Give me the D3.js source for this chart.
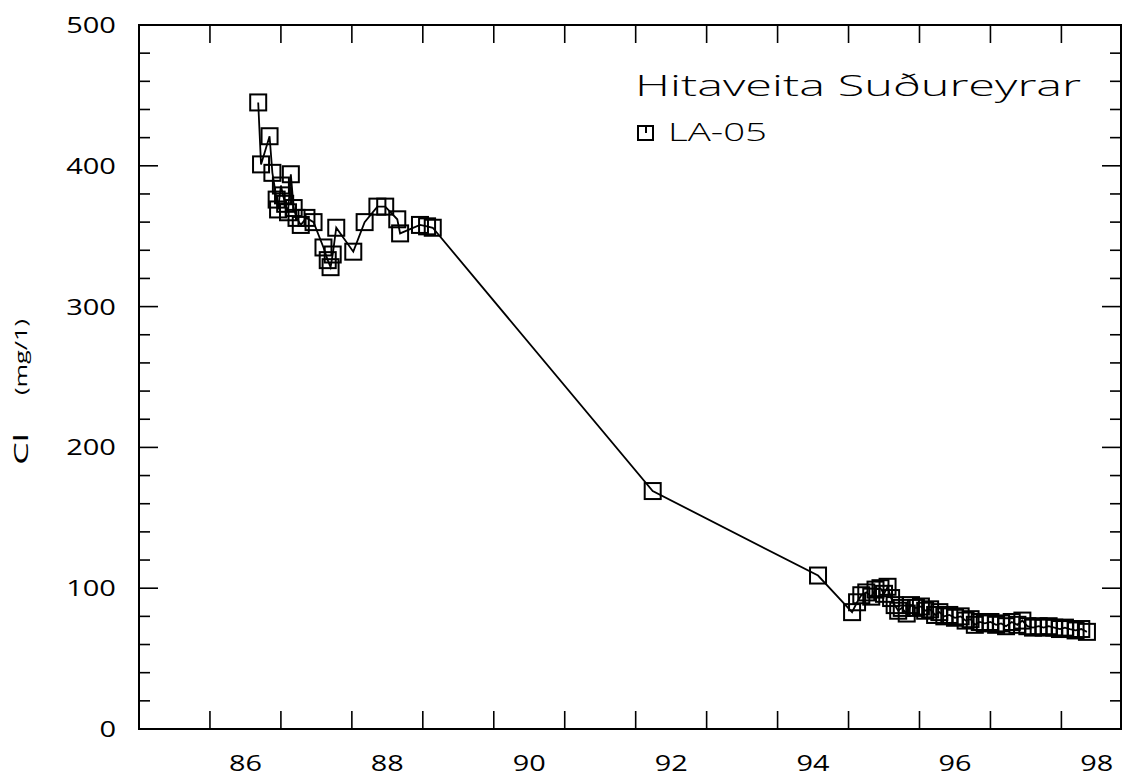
<!DOCTYPE html>
<html>
<head>
<meta charset="utf-8">
<script src="https://cdn.jsdelivr.net/npm/d3@7"></script>
<style>
  body { margin: 0; background: #fff; }
  text { font-family: 'Open Sans', 'DejaVu Sans', sans-serif; font-weight: 400; fill: #000; }
  .light { font-weight: 300; }
</style>
</head>
<body>
<div id="chart"></div>
<script>
// decimal year (19xx) and chloride (mg/l) for well LA-05
var years = [86.68, 86.72, 86.84, 86.88, 86.94, 86.96, 87.00, 87.03, 87.06, 87.10, 87.14, 87.18, 87.22, 87.28, 87.36, 87.46,
    87.60, 87.66, 87.70, 87.73, 87.78, 88.02, 88.18, 88.36, 88.47, 88.64, 88.68, 88.96, 89.06, 89.14,
    92.24, 94.57, 95.05, 95.12, 95.18, 95.25, 95.32, 95.38, 95.45, 95.50, 95.55, 95.60, 95.65, 95.70, 95.75,
    95.82, 95.88, 95.95, 96.02, 96.08, 96.15, 96.22, 96.28, 96.35, 96.42, 96.50, 96.58, 96.65, 96.72, 96.78,
    96.85, 96.92, 97.00, 97.08, 97.15, 97.22, 97.30, 97.38, 97.45, 97.52, 97.60, 97.68, 97.75, 97.82, 97.90,
    97.98, 98.05, 98.12, 98.20, 98.28, 98.36];
var cl = [445, 401, 421, 395, 376, 369, 386, 379, 373, 367, 394, 370, 363, 358, 363, 360,
    342, 333, 328, 337, 356, 339, 360, 371, 371, 362, 352, 358, 357, 356,
    169, 109, 83, 90, 95, 97, 94, 99, 100, 96, 101, 93, 88, 84, 86,
    82, 88, 86, 87, 84, 85, 81, 83, 80, 81, 79, 80, 77, 78, 74,
    76, 75, 76, 74, 75, 73, 76, 74, 77, 73, 72, 73, 72, 73, 72,
    71, 72, 71, 70, 71, 69];

var yearTicks = [86, 87, 88, 89, 90, 91, 92, 93, 94, 95, 96, 97, 98];
var yearLabels = ['86', '88', '90', '92', '94', '96', '98'];
var clTicks = [0, 100, 200, 300, 400, 500];

var data = years.map(function(d, i) { return { t: d, v: cl[i] }; });

var width = 1131, height = 780;
var margin = { top: 25, right: 10, bottom: 51, left: 139 };
var x0 = margin.left, x1 = width - margin.right, y0 = height - margin.bottom, y1 = margin.top;

var svg = d3.select('#chart')
    .append('svg')
    .attr('width', width)
    .attr('height', height);

var x = d3.scaleLinear().domain([85, 98.84]).range([x0, x1]);
var y = d3.scaleLinear().domain([0, 500]).range([y0, y1]);

// frame
svg.append('rect')
    .attr('x', x0).attr('y', y1)
    .attr('width', x1 - x0).attr('height', y0 - y1)
    .attr('fill', 'none').attr('stroke', '#000').attr('stroke-width', 2);

// ticks pointing inward
var minor = d3.range(20, 500, 20);
var ticks = svg.append('g').attr('stroke', '#000').attr('stroke-width', 1.6);
minor.forEach(function(v) {
    var len = v % 100 === 0 ? 19 : 11;
    ticks.append('line').attr('x1', x0).attr('x2', x0 + len).attr('y1', y(v)).attr('y2', y(v));
    ticks.append('line').attr('x1', x1).attr('x2', x1 - len).attr('y1', y(v)).attr('y2', y(v));
});
yearTicks.forEach(function(t) {
    ticks.append('line').attr('x1', x(t)).attr('x2', x(t)).attr('y1', y0).attr('y2', y0 - 18);
    ticks.append('line').attr('x1', x(t)).attr('x2', x(t)).attr('y1', y1).attr('y2', y1 + 18);
});

// tick labels
svg.selectAll('.ylab')
    .data(clTicks)
    .enter()
    .append('text')
    .attr('class', 'ylab')
    .attr('x', 116)
    .attr('y', function(d) { return y(d) + 8; })
    .attr('text-anchor', 'end')
    .attr('font-size', 21)
    .attr('textLength', function(d) { return String(d).length * 16.6; })
    .attr('lengthAdjust', 'spacingAndGlyphs')
    .text(function(d) { return d; });

svg.selectAll('.xlab')
    .data(yearLabels)
    .enter()
    .append('text')
    .attr('class', 'xlab')
    .attr('x', function(d) { return x(+d + 0.5); })
    .attr('y', 771)
    .attr('text-anchor', 'middle')
    .attr('font-size', 22)
    .attr('textLength', 33)
    .attr('lengthAdjust', 'spacingAndGlyphs')
    .text(function(d) { return d; });

// y axis title
svg.append('text')
    .attr('transform', 'translate(28,449) rotate(-90)')
    .attr('text-anchor', 'middle')
    .attr('font-size', 20)
    .attr('textLength', 32)
    .attr('lengthAdjust', 'spacingAndGlyphs')
    .text('Cl');
svg.append('text')
    .attr('transform', 'translate(27,357) rotate(-90)')
    .attr('text-anchor', 'middle')
    .attr('font-size', 16)
    .attr('textLength', 76)
    .attr('lengthAdjust', 'spacingAndGlyphs')
    .text('(mg/1)');

// data line and markers
var line = d3.line()
    .x(function(d) { return x(d.t); })
    .y(function(d) { return y(d.v); });

svg.append('path')
    .datum(data)
    .attr('d', line)
    .attr('fill', 'none')
    .attr('stroke', '#000')
    .attr('stroke-width', 1.8);

var sq = 16;
svg.selectAll('.pt')
    .data(data)
    .enter()
    .append('rect')
    .attr('class', 'pt')
    .attr('x', function(d) { return x(d.t) - sq / 2; })
    .attr('y', function(d) { return y(d.v) - sq / 2; })
    .attr('width', sq)
    .attr('height', sq)
    .attr('fill', 'none')
    .attr('stroke', '#000')
    .attr('stroke-width', 2);

// title and legend
svg.append('text')
    .attr('class', 'light')
    .attr('x', 635)
    .attr('y', 96)
    .attr('font-size', 30)
    .attr('textLength', 446)
    .attr('lengthAdjust', 'spacingAndGlyphs')
    .text('Hitaveita Suðureyrar');

var lg = svg.append('g').attr('transform', 'translate(646,133)');
lg.append('rect')
    .attr('x', -8).attr('y', -7).attr('width', 15).attr('height', 14)
    .attr('fill', 'none').attr('stroke', '#000').attr('stroke-width', 2);
lg.append('line')
    .attr('x1', 0).attr('x2', 0).attr('y1', -7).attr('y2', 0)
    .attr('stroke', '#000').attr('stroke-width', 2);
svg.append('text')
    .attr('class', 'light')
    .attr('x', 668)
    .attr('y', 141)
    .attr('font-size', 25)
    .attr('textLength', 99)
    .attr('lengthAdjust', 'spacingAndGlyphs')
    .text('LA-05');
</script>
</body>
</html>
